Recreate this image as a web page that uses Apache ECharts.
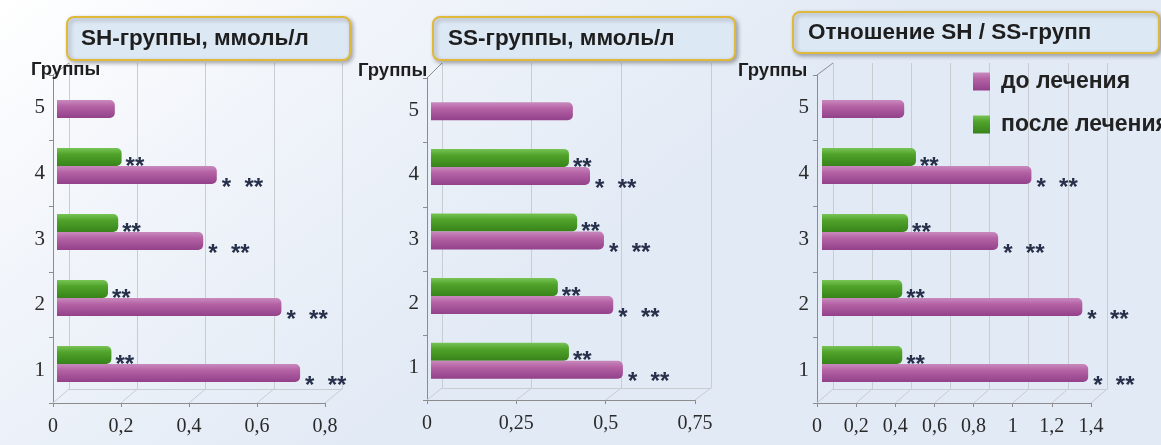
<!DOCTYPE html>
<html>
<head>
<meta charset="utf-8">
<script src="https://cdn.jsdelivr.net/npm/echarts@6/dist/echarts.min.js"></script>
<style>
html,body{margin:0;padding:0;}
#c{width:1161px;height:445px;}
</style>
</head>
<body>
<div id="c"></div>
<script>
// ---- data ----
const categories = ['1', '2', '3', '4', '5'];
const seriesNames = ['до лечения', 'после лечения'];
const panelTitles = ['SH-группы, ммоль/л', 'SS-группы, ммоль/л', 'Отношение SH / SS-групп'];
const axisTitle = 'Группы';
const shBefore = [0.715, 0.66, 0.43, 0.47, 0.17];
const shAfter = [0.16, 0.15, 0.18, 0.19, null];
const ssBefore = [0.537, 0.51, 0.484, 0.445, 0.397];
const ssAfter = [0.386, 0.355, 0.409, 0.386, null];
const ratioBefore = [1.36, 1.33, 0.90, 1.07, 0.42];
const ratioAfter = [0.41, 0.41, 0.44, 0.48, null];
const beforeMarks = ['*  **', '*  **', '*  **', '*  **', ''];
const afterMarks = ['**', '**', '**', '**', ''];
const shTicks = ['0', '0,2', '0,4', '0,6', '0,8'];
const ssTicks = ['0', '0,25', '0,5', '0,75'];
const ratioTicks = ['0', '0,2', '0,4', '0,6', '0,8', '1', '1,2', '1,4'];

// ---- layout ----
const panels = [
  { before: shBefore, after: shAfter, ticks: shTicks, interval: 0.2,
    bars: {left: 57, width: 272, top: 67, height: 330},
    front: {left: 53, width: 272, top: 75, height: 328},
    back: {left: 69, width: 273, top: 63, height: 326},
    box: {x: 67, y: 17, w: 283, h: 43, tx: 81}, gl: {x: 31, y: 70} },
  { before: ssBefore, after: ssAfter, ticks: ssTicks, interval: 0.25,
    bars: {left: 431, width: 268, top: 70, height: 323},
    front: {left: 427, width: 268, top: 78, height: 322},
    back: {left: 442, width: 269, top: 63, height: 325},
    box: {x: 433, y: 17, w: 302, h: 43, tx: 448}, gl: {x: 358, y: 71} },
  { before: ratioBefore, after: ratioAfter, ticks: ratioTicks, interval: 0.2,
    bars: {left: 822, width: 274, top: 67, height: 330},
    front: {left: 817, width: 274, top: 75, height: 328},
    back: {left: 833, width: 274, top: 63, height: 326},
    box: {x: 793, y: 12, w: 366, h: 41, tx: 808}, gl: {x: 738, y: 71} }
];

const pinkGrad = {type: 'linear', x: 0, y: 0, x2: 0, y2: 1, colorStops: [
  {offset: 0, color: '#c98abd'}, {offset: 0.35, color: '#b562a5'}, {offset: 1, color: '#92418a'}]};
const greenGrad = {type: 'linear', x: 0, y: 0, x2: 0, y2: 1, colorStops: [
  {offset: 0, color: '#78c456'}, {offset: 0.35, color: '#50a32a'}, {offset: 1, color: '#37831a'}]};

const grids = [], xAxes = [], yAxes = [], series = [];
const gridColor = '#c9ccd1';
const axisColor = '#8c8c8c';
const serif = 'Liberation Serif';

panels.forEach((p, i) => {
  const max = p.interval * (p.ticks.length - 1);
  const bi = 3 * i, fi = 3 * i + 1, si = 3 * i + 2;
  grids.push(Object.assign({}, p.back), Object.assign({}, p.front), Object.assign({}, p.bars));
  // back plane
  xAxes.push({type: 'value', gridIndex: bi, min: 0, max: max, interval: p.interval,
    axisLine: {show: true, lineStyle: {color: gridColor}}, axisTick: {show: false}, axisLabel: {show: false},
    splitLine: {show: true, lineStyle: {color: gridColor, width: 1}}});
  yAxes.push({type: 'category', gridIndex: bi, data: categories, show: false});
  // front axes
  xAxes.push({type: 'value', gridIndex: fi, min: 0, max: max, interval: p.interval,
    axisLine: {show: true, lineStyle: {color: axisColor}},
    axisTick: {show: true, length: 4, inside: false, lineStyle: {color: axisColor}},
    splitLine: {show: false},
    axisLabel: {show: true, margin: 14, fontFamily: serif, fontSize: 20, color: '#2a2a2a',
      formatter: (v) => p.ticks[Math.round(v / p.interval)]}});
  yAxes.push({type: 'category', gridIndex: fi, data: categories,
    axisLine: {show: true, lineStyle: {color: axisColor}},
    axisTick: {show: true, length: 4, lineStyle: {color: axisColor}},
    axisLabel: {margin: 8, fontFamily: serif, fontSize: 21, color: '#2a2a2a'}});
  // bars
  xAxes.push({type: 'value', gridIndex: si, min: 0, max: max, show: false, splitLine: {show: false}});
  yAxes.push({type: 'category', gridIndex: si, data: categories, show: false});
  const starLabel = (marks, off) => ({show: true, position: 'right', distance: 3, offset: off,
    fontFamily: 'Liberation Sans', fontWeight: 'bold', fontSize: 24, color: '#27304a',
    formatter: (prm) => marks[prm.dataIndex]});
  // after-treatment first so it sits above the before-treatment bar
  series.push({type: 'bar', name: seriesNames[1], xAxisIndex: si, yAxisIndex: si, data: p.after,
    barWidth: 18, barGap: '0%', itemStyle: {color: greenGrad, borderRadius: [0, 5, 5, 0]},
    label: starLabel(afterMarks, [1, 10]), animation: false});
  series.push({type: 'bar', name: seriesNames[0], xAxisIndex: si, yAxisIndex: si, data: p.before,
    barWidth: 18, barGap: '0%', itemStyle: {color: pinkGrad, borderRadius: [0, 5, 5, 0]},
    label: starLabel(beforeMarks, [2, 13]), animation: false});
});

const chart = echarts.init(document.getElementById('c'), null, {renderer: 'canvas'});
chart.setOption({
  animation: false,
  backgroundColor: {type: 'linear', x: 0, y: 0, x2: 0.3, y2: 1, colorStops: [
    {offset: 0, color: '#ffffff'}, {offset: 0.35, color: '#f3f6fb'}, {offset: 1, color: '#e2eaf5'}]},
  grid: grids, xAxis: xAxes, yAxis: yAxes, series: series,
  legend: {show: true, orient: 'vertical', left: 973, top: 70, padding: 0, itemWidth: 17, itemHeight: 18, itemGap: 20,
    icon: 'rect', data: seriesNames,
    textStyle: {fontFamily: 'Liberation Sans', fontWeight: 'bold', fontSize: 23, color: '#222', padding: [0, 0, 0, 6]}}
});

// decorations derived from the axes: floor diagonals, title boxes
const graphics = [];
panels.forEach((p, i) => {
  const fi = 3 * i + 1, bi = 3 * i;
  const yFront = p.front.top + p.front.height;
  const yBack = p.back.top + p.back.height;
  p.ticks.forEach((t, k) => {
    const v = k * p.interval;
    const xf = chart.convertToPixel({xAxisIndex: fi}, v);
    const xb = chart.convertToPixel({xAxisIndex: bi}, v);
    graphics.push({type: 'line', silent: true, z: 1,
      shape: {x1: xf, y1: yFront, x2: xb, y2: yBack}, style: {stroke: gridColor, lineWidth: 1}});
  });
  graphics.push({type: 'line', silent: true, z: 1,
    shape: {x1: p.front.left, y1: p.front.top, x2: p.back.left, y2: p.back.top}, style: {stroke: axisColor, lineWidth: 1}});
  graphics.push({type: 'rect', z: 100, shape: {x: p.box.x, y: p.box.y, width: p.box.w, height: p.box.h, r: 7},
    style: {fill: '#dde8f5', stroke: '#e0b83a', lineWidth: 2, shadowBlur: 4, shadowOffsetX: 2, shadowOffsetY: 2,
      shadowColor: 'rgba(0,0,0,0.3)'}});
  graphics.push({type: 'text', z: 101, x: p.box.tx, y: p.box.y + p.box.h / 2,
    style: {text: panelTitles[i], fontFamily: 'Liberation Sans', fontWeight: 'bold', fontSize: 22.5,
      fill: '#1e1e1e', verticalAlign: 'middle'}});
  graphics.push({type: 'text', z: 50, x: p.gl.x, y: p.gl.y,
    style: {text: axisTitle, fontFamily: 'Liberation Sans', fontWeight: 'bold', fontSize: 18.5,
      fill: '#1e1e1e', verticalAlign: 'middle'}});
});
chart.setOption({graphic: graphics});
</script>
</body>
</html>
